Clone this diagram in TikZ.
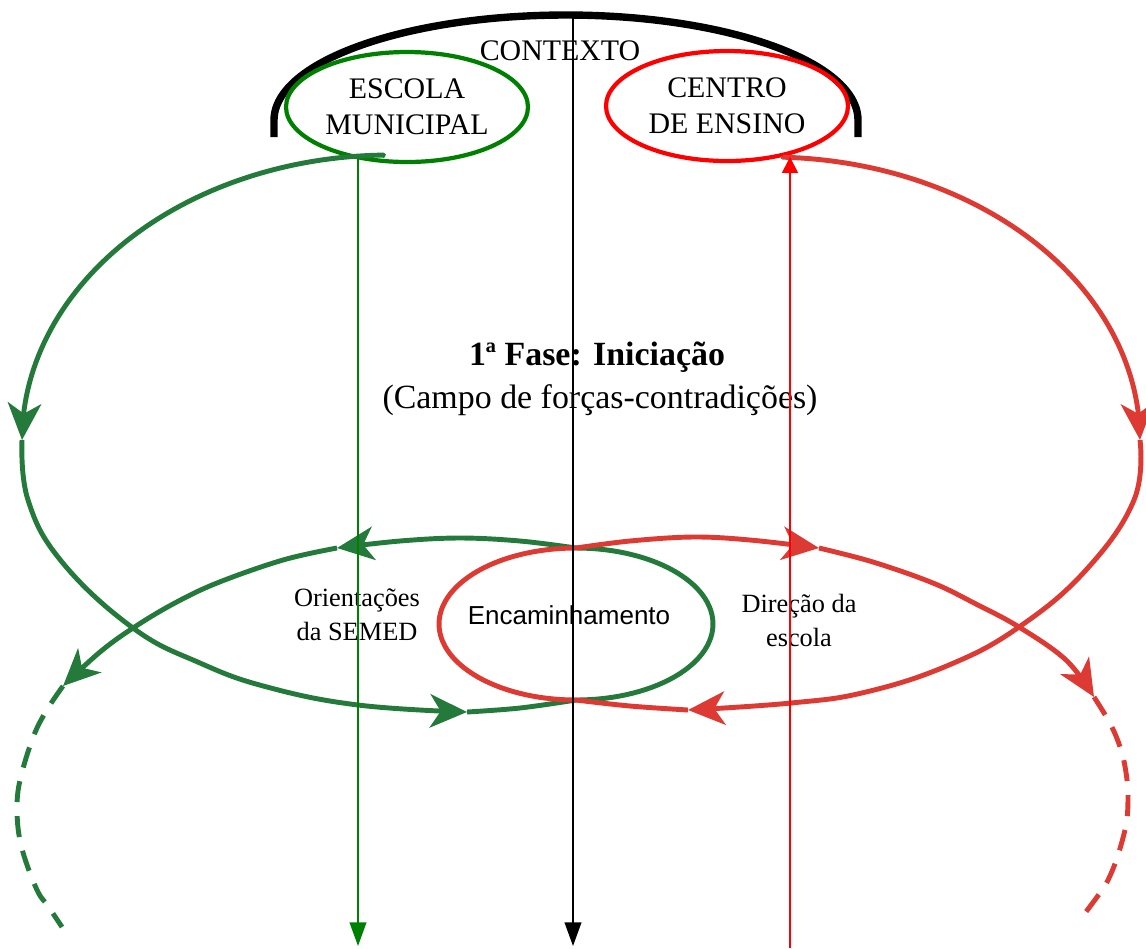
\documentclass[tikz,border=0pt]{standalone}
\usepackage{fontspec}
\setmainfont{Liberation Serif}
\newfontfamily\encfont{Liberation Sans}
\usetikzlibrary{arrows.meta,shapes.geometric}

\definecolor{loopgreen}{RGB}{36,122,58}
\definecolor{loopred}{RGB}{220,58,50}
\definecolor{puregreen}{RGB}{0,128,0}
\definecolor{purered}{RGB}{255,0,0}

\begin{document}
\begin{tikzpicture}[x=0.02cm, y=-0.02cm, line join=round,
  loopG/.style={draw=loopgreen, line width=2.8pt},
  loopR/.style={draw=loopred, line width=2.8pt},
  bigtip/.style={-{Stealth[length=21pt,width=19pt,inset=6pt]}},
  trail/.style={dash pattern=on 12pt off 8pt},
  guide/.style={line width=1.1pt},
  guidetip/.style={-{Triangle[length=13.5pt,width=9.5pt]}},
  ctxline/.style={draw=black, line width=4.2pt},
  toptext/.style={font=\fontsize{17}{20.5}\selectfont, inner sep=0pt},
  schoolnode/.style={ellipse, line width=2.4pt, minimum width=4.84cm,
    minimum height=2.2cm, inner sep=0pt, align=center,
    font=\fontsize{17}{20.5}\selectfont},
  headtext/.style={font=\fontsize{19.3}{23}\selectfont, inner sep=0pt},
  sidetext/.style={font=\fontsize{15}{19}\selectfont, inner sep=0pt, align=center},
  enctext/.style={font=\encfont\fontsize{14.8}{18}\selectfont, inner sep=0pt},
  smooth/.append style={tension=0.6}
]
\useasboundingbox (0,0) rectangle (1146,948);

% ---------- context frame ----------
\draw[ctxline] (274,137) -- plot[domain=180:360, samples=90, variable=\t]
  ({566+292*cos(\t)}, {120+105*sin(\t)}) -- (858,137);

\node[toptext, anchor=base] (contexto) at (560,60) {CONTEXTO};

\node[schoolnode, draw=puregreen] (escola) at (407,107) {ESCOLA\\MUNICIPAL};
\node[schoolnode, draw=purered] (centro) at (727,106) {CENTRO\\DE ENSINO};

% ---------- texts of the first phase ----------
\node[headtext, anchor=base] (fase) at (597,365) {\bfseries 1ª Fase: Iniciação};
\node[headtext, anchor=base] (campo) at (600,408) {(Campo de forças-contradições)};
\node[sidetext, anchor=base] (orient) at (357,640) {Orientações\\da SEMED};
\node[enctext, anchor=base] (encam) at (569,624) {Encaminhamento};
\node[sidetext, anchor=base] (direcao) at (799,646) {Direção da\\escola};

% ---------- green loop (school side) ----------
\coordinate (gstart) at (382,156);
\coordinate (gtipA) at (22,440);
\coordinate (gtipB) at (467,712);
\coordinate (gtop) at (576,548);
\coordinate (gtipD) at (337,548);
\coordinate (gtipE) at (63,686);
\coordinate (gend) at (62,927);

\draw[loopG, bigtip] (gstart) -- plot[domain=91:174, samples=60, variable=\t]
  ({390+368*cos(\t)}, {440-285*sin(\t)}) -- (gtipA);
\draw[loopG, bigtip] plot[smooth, tension=0.7] coordinates {(gtipA) (28,500)
  (62,562) (133,628) (200,663) (267,687) (358,705) (gtipB)};
\draw[loopG] plot[smooth] coordinates {(gtipB) (520,708) (576,700)}
  -- plot[domain=90:-90, samples=60, variable=\t]
  ({576+137*cos(\t)}, {624+76*sin(\t)});
\draw[loopG, bigtip] plot[smooth] coordinates {(gtop) (520,541) (460,538)
  (400,541) (gtipD)};
\draw[loopG, bigtip] plot[smooth] coordinates {(gtipD) (283,560) (217,583)
  (173,604) (133,628) (100,652) (gtipE)};
\draw[loopG, trail] plot[smooth] coordinates {(gtipE) (50,705) (37,728)
  (27,755) (19,785) (17,808) (19,835) (26,862) (38,892) (48,906) (gend)};

% ---------- red loop (teaching centre side) ----------
\coordinate (rstart) at (783,157);
\coordinate (rtipA) at (1140,440);
\coordinate (rtipB) at (688,710);
\coordinate (rtop) at (576,548);
\coordinate (rtipD) at (819,548);
\coordinate (rtipE) at (1094,697);
\coordinate (rend) at (1082,917);

\draw[loopR, bigtip] (rstart) -- plot[domain=88:6, samples=60, variable=\t]
  ({770+370*cos(\t)}, {440-283*sin(\t)}) -- (rtipA);
\draw[loopR, bigtip] plot[smooth, tension=0.7] coordinates {(rtipA) (1134,500)
  (1086,570) (1019,627) (949,665) (866,692) (791,703) (rtipB)};
\draw[loopR] plot[smooth] coordinates {(rtipB) (630,706) (576,700)}
  -- plot[domain=90:270, samples=60, variable=\t]
  ({576+137*cos(\t)}, {624+76*sin(\t)});
\draw[loopR, bigtip] plot[smooth] coordinates {(rtop) (630,541) (693,537)
  (750,540) (rtipD)};
\draw[loopR, bigtip] plot[smooth] coordinates {(rtipD) (873,562) (933,583)
  (976,604) (1019,627) (1066,660) (rtipE)};
\draw[loopR, trail] plot[smooth] coordinates {(rtipE) (1107,718) (1116,736)
  (1123,757) (1127,780) (1128,800) (1126,825) (1117,858) (1107,882)
  (1097,897) (rend)};

% ---------- vertical guide lines ----------
\coordinate (gvtop) at (358,159);
\coordinate (gvbot) at (358,946);
\coordinate (ctxtop) at (573,15);
\coordinate (ctxbot) at (573,946);
\coordinate (rvbot) at (790,948);
\coordinate (rvtop) at (790,157);

\draw[guide, guidetip, draw=puregreen] (gvtop) -- (gvbot);
\draw[guide, guidetip, draw=black] (ctxtop) -- (ctxbot);
\draw[guide, -{Triangle[length=9pt,width=9pt]}, draw=purered] (rvbot) -- (rvtop);
\end{tikzpicture}
\end{document}
